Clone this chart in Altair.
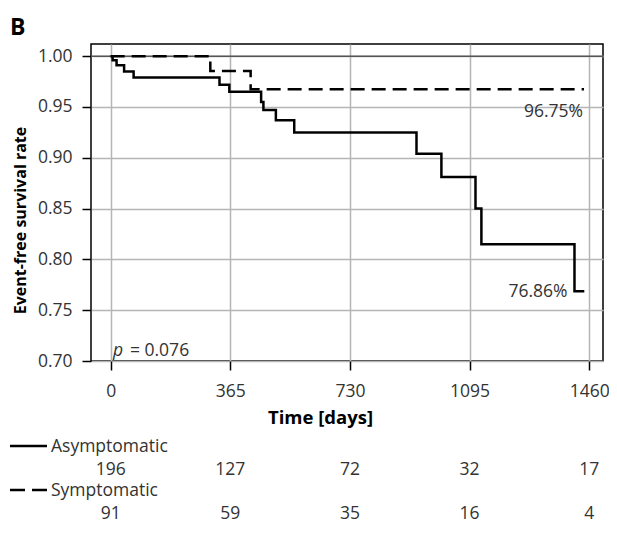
import altair as alt
import pandas as pd

# ---- data ----
groups = ["Asymptomatic", "Symptomatic"]
asym_days = [0, 6, 18, 41, 70, 332, 362, 459, 466, 504, 560, 933, 1009, 1113, 1131, 1415, 1445]
asym_surv = [1.000, 0.996, 0.991, 0.985, 0.979, 0.972, 0.965, 0.955, 0.947, 0.937, 0.925,
             0.904, 0.881, 0.850, 0.815, 0.7686, 0.7686]
sym_days = [0, 304, 427, 1444]
sym_surv = [1.000, 0.9855, 0.9675, 0.9675]

risk_times = [0, 365, 730, 1095, 1460]
risk_asym = [196, 127, 72, 32, 17]
risk_sym = [91, 59, 35, 16, 4]

y_ticks = [0.70, 0.75, 0.80, 0.85, 0.90, 0.95, 1.00]

ann_x = [1444, 1415]
ann_y = [0.9675, 0.7686]
ann_text = ["96.75%", "76.86%"]

p_x = [7]
p_y = [0.711]
p_value = "= 0.076"

# ---- tables ----
curves = pd.concat([
    pd.DataFrame({"day": asym_days, "surv": asym_surv, "group": groups[0]}),
    pd.DataFrame({"day": sym_days, "surv": sym_surv, "group": groups[1]}),
])
risk = pd.DataFrame({"day": risk_times, "asym": risk_asym, "sym": risk_sym})
ann = pd.DataFrame({"day": ann_x, "surv": ann_y, "text": ann_text})
pv = pd.DataFrame({"day": p_x, "surv": p_y})

FONT = "Open Sans"
LBL = "#333333"
FS = 17.5

xscale = alt.Scale(domain=[-60, 1502], nice=False, zero=False)
yscale = alt.Scale(domain=[0.70, 1.012], nice=False, zero=False)

xaxis = alt.Axis(values=risk_times, format="d", title="Time [days]", labelFontSize=FS, labelFont=FONT,
                 labelColor=LBL, tickSize=9, tickColor="black", tickWidth=1.5, labelFlush=False,
                 labelPadding=12, domain=False, gridColor="#b5b5b5", gridWidth=1.5,
                 titleFont=FONT, titleFontSize=18.5, titleFontWeight="bold", titleColor="black",
                 titleX=229, titleY=62, titleAlign="center", titleBaseline="alphabetic")
yaxis = alt.Axis(values=y_ticks, format=".2f", title="Event-free survival rate", labelFontSize=FS,
                 labelFont=FONT, labelColor=LBL, tickSize=9, tickColor="black",
                 tickWidth=1.5, labelPadding=10, domain=False, gridColor="#b5b5b5", gridWidth=1.5,
                 titleFont=FONT, titleFontSize=16, titleFontWeight="bold", titleColor="black",
                 titleAngle=270, titleX=-66, titleY=176, titleAlign="center",
                 titleBaseline="alphabetic")

base = alt.Chart(curves)

grid = base.mark_point(opacity=0).encode(
    x=alt.X("day:Q", scale=xscale, axis=xaxis),
    y=alt.Y("surv:Q", scale=yscale, axis=yaxis),
)

top_rule = alt.Chart(pd.DataFrame({"surv": [1.0]})).mark_rule(color="#555555", strokeWidth=1.5).encode(
    y=alt.Y("surv:Q", scale=yscale)
)

lines = base.mark_line(interpolate="step-after", color="black", strokeWidth=2.5).encode(
    x=alt.X("day:Q", scale=xscale),
    y=alt.Y("surv:Q", scale=yscale),
    strokeDash=alt.StrokeDash("group:N", scale=alt.Scale(domain=groups, range=[[1, 0], [14, 7]]),
                              legend=None),
    detail="group:N",
)

ann_hi = alt.Chart(ann).transform_filter(alt.datum.surv > 0.9).mark_text(
    align="right", baseline="middle", font=FONT, fontSize=FS, color=LBL,
    dx=-1, dy=23).encode(
    x=alt.X("day:Q", scale=xscale), y=alt.Y("surv:Q", scale=yscale), text="text:N")
ann_lo = alt.Chart(ann).transform_filter(alt.datum.surv <= 0.9).mark_text(
    align="right", baseline="middle", font=FONT, fontSize=FS, color=LBL,
    dx=-7, dy=1).encode(
    x=alt.X("day:Q", scale=xscale), y=alt.Y("surv:Q", scale=yscale), text="text:N")

p_italic = alt.Chart(pv).mark_text(align="left", baseline="middle", font=FONT,
                                   fontStyle="italic", fontSize=FS, color=LBL, dy=1).encode(
    x=alt.X("day:Q", scale=xscale), y=alt.Y("surv:Q", scale=yscale), text=alt.value("p"))
p_rest = alt.Chart(pv).mark_text(align="left", baseline="middle", font=FONT,
                                 fontSize=FS, color=LBL, dx=17, dy=1).encode(
    x=alt.X("day:Q", scale=xscale), y=alt.Y("surv:Q", scale=yscale), text=alt.value(p_value))

risk_a = alt.Chart(risk).mark_text(align="center", baseline="middle", font=FONT,
                                   fontSize=FS, color=LBL).encode(
    x=alt.X("day:Q", scale=xscale), y=alt.value(426), text="asym:Q")
risk_s = alt.Chart(risk).mark_text(align="center", baseline="middle", font=FONT,
                                   fontSize=FS, color=LBL).encode(
    x=alt.X("day:Q", scale=xscale), y=alt.value(470), text="sym:Q")

leg_df = pd.DataFrame({"group": groups})
leg_solid = alt.Chart(leg_df).transform_filter(alt.datum.group == groups[0]).mark_rule(
    color="black", strokeWidth=2.5).encode(x=alt.value(-81), x2=alt.value(-44), y=alt.value(402))
leg_dash = alt.Chart(leg_df).transform_filter(alt.datum.group == groups[1]).mark_rule(
    color="black", strokeWidth=2.5, strokeDash=[15, 7]).encode(
    x=alt.value(-81), x2=alt.value(-44), y=alt.value(446))
leg_text_a = alt.Chart(leg_df).transform_filter(alt.datum.group == groups[0]).mark_text(
    align="left", baseline="middle", font=FONT, fontSize=FS, color=LBL).encode(
    x=alt.value(-40), y=alt.value(403), text="group:N")
leg_text_s = alt.Chart(leg_df).transform_filter(alt.datum.group == groups[1]).mark_text(
    align="left", baseline="middle", font=FONT, fontSize=FS, color=LBL).encode(
    x=alt.value(-40), y=alt.value(447), text="group:N")

panel = alt.Chart(pd.DataFrame({"t": ["B"]})).mark_text(
    align="left", baseline="alphabetic", font=FONT, fontWeight="bold", fontSize=23, color="black").encode(
    x=alt.value(-81), y=alt.value(-9), text="t:N")

chart = alt.layer(
    grid, top_rule, lines, ann_hi, ann_lo, p_italic, p_rest,
    risk_a, risk_s, leg_solid, leg_dash, leg_text_a, leg_text_s, panel,
).properties(
    width=512, height=317,
    autosize=alt.AutoSizeParams(type="none"),
    padding={"left": 83, "top": 36, "right": 6, "bottom": 163},
).configure_view(stroke="black", strokeWidth=1.5)

chart.save("out.html", embed_options={"renderer": "svg", "actions": False})
